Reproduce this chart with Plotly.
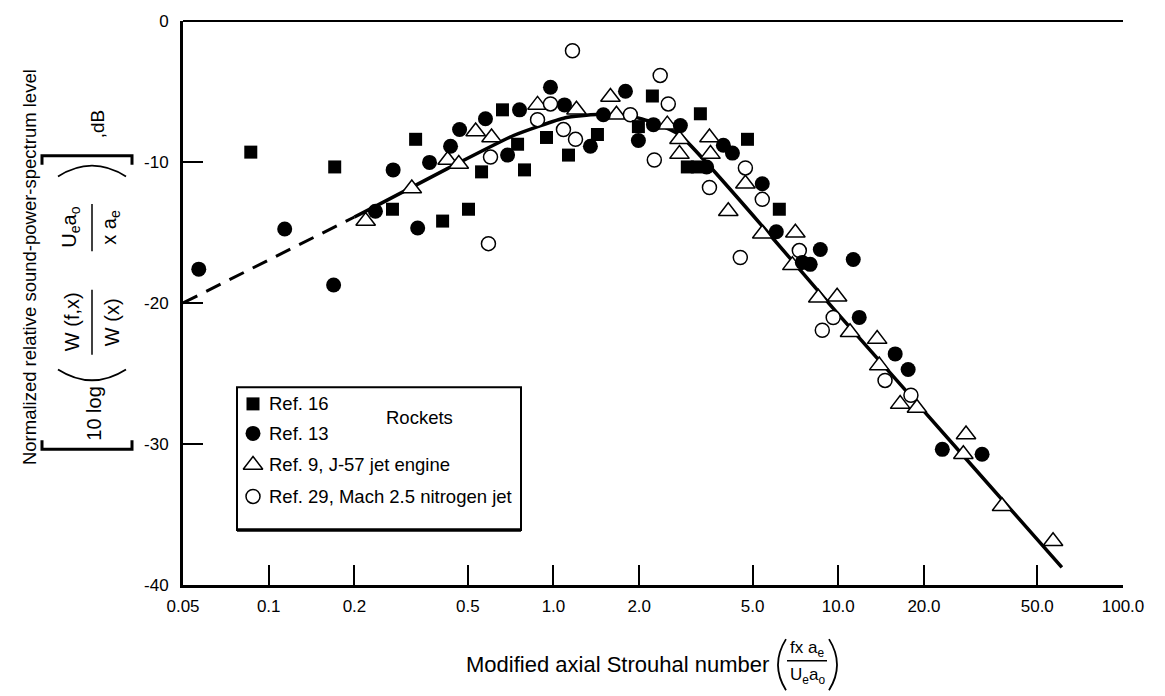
import plotly.graph_objects as go

# ---------------- data ----------------
ref16_x = [0.0865, 0.1705, 0.328, 0.272, 0.408, 0.503, 0.559, 0.662, 0.748, 0.791,
           0.945, 1.129, 1.427, 1.987, 2.225, 2.951, 3.20, 3.28, 4.80, 6.21]
ref16_y = [-9.3, -10.35, -8.39, -13.35, -14.19, -13.35, -10.7, -6.3, -8.74, -10.56,
           -8.26, -9.51, -8.05, -7.49, -5.32, -10.35, -10.35, -6.58, -8.39, -13.35]

ref13_x = [0.0568, 0.1138, 0.169, 0.237, 0.2735, 0.3335, 0.367, 0.435, 0.468, 0.577,
           0.690, 0.760, 0.976, 1.093, 1.348, 1.497, 1.790, 1.987, 2.244, 2.79,
           3.45, 3.95, 4.25, 5.41, 6.06, 7.48, 7.97, 8.65, 11.29, 11.85,
           15.85, 17.6, 23.2, 32.0]
ref13_y = [-17.6, -14.75, -18.72, -13.49, -10.56, -14.68, -10.03, -8.88, -7.70, -6.93,
           -9.51, -6.30, -4.70, -5.95, -8.88, -6.65, -4.98, -8.47, -7.35, -7.42,
           -10.35, -8.81, -9.37, -11.54, -14.95, -17.12, -17.26, -16.21, -16.91, -21.02,
           -23.61, -24.72, -30.38, -30.73]

ref9_x = [0.219, 0.318, 0.425, 0.465, 0.533, 0.606, 0.879, 1.204, 1.585, 1.664,
          2.51, 2.77, 2.77, 3.53, 3.56, 4.11, 4.72, 5.41, 7.07, 6.90,
          8.51, 9.91, 11.0, 13.7, 13.93, 16.5, 18.9, 28.1, 27.5, 37.6, 56.8]
ref9_y = [-14.19, -11.88, -9.86, -10.14, -7.84, -8.26, -5.95, -6.30, -5.39, -6.65,
          -7.35, -8.39, -9.44, -8.26, -9.44, -13.49, -11.54, -15.09, -15.02, -17.33,
          -19.63, -19.56, -22.07, -22.56, -24.44, -27.17, -27.45, -29.33, -30.73, -34.42, -36.9]

ref29_x = [0.591, 0.601, 0.879, 0.976, 1.084, 1.195, 1.166, 1.862, 2.26, 2.37,
           2.53, 3.53, 4.72, 5.41, 4.53, 7.30, 9.6, 8.79, 14.6, 18.0]
ref29_y = [-15.79, -9.65, -7.0, -5.88, -7.70, -8.39, -2.11, -6.65, -9.86, -3.86,
           -5.88, -11.81, -10.42, -12.65, -16.77, -16.28, -21.03, -21.93, -25.49, -26.54]

fit_dash_x = [0.05, 0.2]
fit_dash_y = [-20.0, -13.9]
fit_x = [0.2, 0.247, 0.424, 0.724, 1.10, 1.42, 1.86, 2.24, 2.79, 10.0, 30.0, 61.0]
fit_y = [-13.9, -12.95, -10.47, -8.12, -6.86, -6.63, -6.74, -7.21, -8.12, -20.79, -31.7, -38.75]

x_tickvals = [0.05, 0.1, 0.2, 0.5, 1.0, 2.0, 5.0, 10.0, 20.0, 50.0, 100.0]
x_ticktext = ["0.05", "0.1", "0.2", "0.5", "1.0", "2.0", "5.0", "10.0", "20.0", "50.0", "100.0"]
y_tickvals = [0, -10, -20, -30, -40]
y_ticktext = ["0", "-10", "-20", "-30", "-40"]

legend_labels = ["Ref. 16", "Ref. 13", "Ref. 9, J-57 jet engine", "Ref. 29, Mach 2.5 nitrogen jet"]

# ---------------- layout helpers ----------------
W, H = 1165, 696
L, R, T, B = 183, 42, 12, 111
PW, PH = W - L - R, H - T - B


def px(x):
    return (x - L) / PW


def py(y):
    return (H - B - y) / PH


FONT = "Liberation Sans, Arial, Helvetica, sans-serif"

fig = go.Figure()

# fitted curve
fig.add_trace(go.Scatter(x=fit_dash_x, y=fit_dash_y, mode="lines",
                         line=dict(color="black", width=3, dash="16px,10px"),
                         showlegend=False, hoverinfo="skip"))
fig.add_trace(go.Scatter(x=fit_x, y=fit_y, mode="lines",
                         line=dict(color="black", width=3.5, shape="spline", smoothing=0.5),
                         showlegend=False, hoverinfo="skip"))

mk_sq = dict(symbol="square", size=13, color="black", line=dict(width=0))
mk_fc = dict(symbol="circle", size=15, color="black", line=dict(width=0))
mk_tr = dict(symbol="triangle-up", size=17, color="white", line=dict(color="black", width=1.5))
mk_oc = dict(symbol="circle", size=14, color="white", line=dict(color="black", width=1.5))

fig.add_trace(go.Scatter(x=ref9_x, y=ref9_y, mode="markers", marker=mk_tr, name=legend_labels[2], showlegend=False))
fig.add_trace(go.Scatter(x=ref29_x, y=ref29_y, mode="markers", marker=mk_oc, name=legend_labels[3], showlegend=False))
fig.add_trace(go.Scatter(x=ref16_x, y=ref16_y, mode="markers", marker=mk_sq, name=legend_labels[0], showlegend=False))
fig.add_trace(go.Scatter(x=ref13_x, y=ref13_y, mode="markers", marker=mk_fc, name=legend_labels[1], showlegend=False))

# ---------------- legend box (drawn by hand) ----------------
leg_rows = [401, 431, 463, 495]
leg_markers = [mk_sq, mk_fc, mk_tr, mk_oc]
for row, mk in zip(leg_rows, leg_markers):
    fig.add_trace(go.Scatter(x=[px(253)], y=[py(row)], mode="markers", marker=mk,
                             xaxis="x2", yaxis="y2", showlegend=False, hoverinfo="skip"))
for row, lab in zip(leg_rows, legend_labels):
    fig.add_annotation(xref="paper", yref="paper", x=px(267), y=py(row), text=lab,
                       showarrow=False, xanchor="left", yanchor="middle",
                       font=dict(family=FONT, size=18.5, color="black"))
fig.add_annotation(xref="paper", yref="paper", x=px(384), y=py(415), text="Rockets",
                   showarrow=False, xanchor="left", yanchor="middle",
                   font=dict(family=FONT, size=18.5, color="black"))

shapes = []
shapes.append(dict(type="rect", xref="paper", yref="paper", x0=px(237), x1=px(521), y0=py(529), y1=py(384),
                   line=dict(color="black", width=2), fillcolor="rgba(0,0,0,0)"))
shapes.append(dict(type="line", xref="paper", yref="paper", x0=px(237), x1=px(521), y0=py(529), y1=py(529),
                   line=dict(color="black", width=3.5)))
# top frame line
shapes.append(dict(type="line", xref="paper", yref="paper", x0=0, x1=1, y0=1, y1=1,
                   line=dict(color="black", width=2)))


# ---------------- y-axis title pieces ----------------
def rot(x, y, text, size=17):
    fig.add_annotation(xref="paper", yref="paper", x=px(x), y=py(y), text=text, showarrow=False,
                       textangle=-90, xanchor="center", yanchor="middle",
                       font=dict(family=FONT, size=size, color="black"))


rot(29, 262, "Normalized relative sound-power-spectrum level", 18.5)
rot(94, 411, "10 log", 20)
rot(72, 318, "W (f,x)", 20)
rot(112, 318, "W (x)", 20)
rot(71, 222, "U<sub>e</sub>a<sub>o</sub>", 20)
rot(111, 222, "x a<sub>e</sub>", 20)
rot(97, 117, ",dB", 19)

# fraction bars (vertical because text rotated)
shapes.append(dict(type="line", xref="paper", yref="paper", x0=px(92), x1=px(92), y0=py(285), y1=py(351),
                   line=dict(color="black", width=1.5)))
shapes.append(dict(type="line", xref="paper", yref="paper", x0=px(92), x1=px(92), y0=py(198), y1=py(246),
                   line=dict(color="black", width=1.5)))
# parentheses
shapes.append(dict(type="path", xref="paper", yref="paper",
                   path=f"M {px(58)},{py(366)} Q {px(92)},{py(388)} {px(126)},{py(366)}",
                   line=dict(color="black", width=1.8)))
shapes.append(dict(type="path", xref="paper", yref="paper",
                   path=f"M {px(58)},{py(170)} Q {px(92)},{py(148)} {px(126)},{py(170)}",
                   line=dict(color="black", width=1.8)))
# brackets
shapes.append(dict(type="path", xref="paper", yref="paper",
                   path=f"M {px(42)},{py(438)} L {px(42)},{py(447)} L {px(132)},{py(447)} L {px(132)},{py(438)}",
                   line=dict(color="black", width=3)))
shapes.append(dict(type="path", xref="paper", yref="paper",
                   path=f"M {px(42)},{py(158)} L {px(42)},{py(149)} L {px(132)},{py(149)} L {px(132)},{py(158)}",
                   line=dict(color="black", width=3)))

# ---------------- x-axis title ----------------
fig.add_annotation(xref="paper", yref="paper", x=px(771), y=py(666), text="Modified axial Strouhal number",
                   showarrow=False, xanchor="right", yanchor="middle",
                   font=dict(family=FONT, size=22, color="black"))
fig.add_annotation(xref="paper", yref="paper", x=px(807), y=py(650), text="fx a<sub>e</sub>",
                   showarrow=False, xanchor="center", yanchor="middle",
                   font=dict(family=FONT, size=17, color="black"))
fig.add_annotation(xref="paper", yref="paper", x=px(807), y=py(677), text="U<sub>e</sub>a<sub>o</sub>",
                   showarrow=False, xanchor="center", yanchor="middle",
                   font=dict(family=FONT, size=17, color="black"))
shapes.append(dict(type="line", xref="paper", yref="paper", x0=px(787), x1=px(827), y0=py(662), y1=py(662),
                   line=dict(color="black", width=1.5)))
shapes.append(dict(type="path", xref="paper", yref="paper",
                   path=f"M {px(786)},{py(640)} Q {px(770)},{py(666)} {px(786)},{py(692)}",
                   line=dict(color="black", width=1.8)))
shapes.append(dict(type="path", xref="paper", yref="paper",
                   path=f"M {px(829)},{py(640)} Q {px(845)},{py(666)} {px(829)},{py(692)}",
                   line=dict(color="black", width=1.8)))

fig.update_layout(
    width=W, height=H,
    margin=dict(l=L, r=R, t=T, b=B, pad=0),
    paper_bgcolor="white", plot_bgcolor="white",
    showlegend=False,
    shapes=shapes,
    font=dict(family=FONT, size=17, color="black"),
    xaxis=dict(type="log", range=[-1.30103, 2.0], tickvals=x_tickvals, ticktext=x_ticktext,
               ticks="inside", ticklen=20, tickwidth=2, tickcolor="black",
               showline=True, linecolor="black", linewidth=3, showgrid=False, zeroline=False,
               tickfont=dict(family=FONT, size=17, color="black"), ticklabelstandoff=4),
    yaxis=dict(range=[-40, 0], tickvals=y_tickvals, ticktext=y_ticktext,
               ticks="inside", ticklen=20, tickwidth=2, tickcolor="black",
               showline=True, linecolor="black", linewidth=3, showgrid=False, zeroline=False,
               tickfont=dict(family=FONT, size=17, color="black"), ticklabelstandoff=8),
    xaxis2=dict(overlaying="x", range=[0, 1], visible=False, fixedrange=True),
    yaxis2=dict(overlaying="y", range=[0, 1], visible=False, fixedrange=True),
)

fig.write_html("out.html")
